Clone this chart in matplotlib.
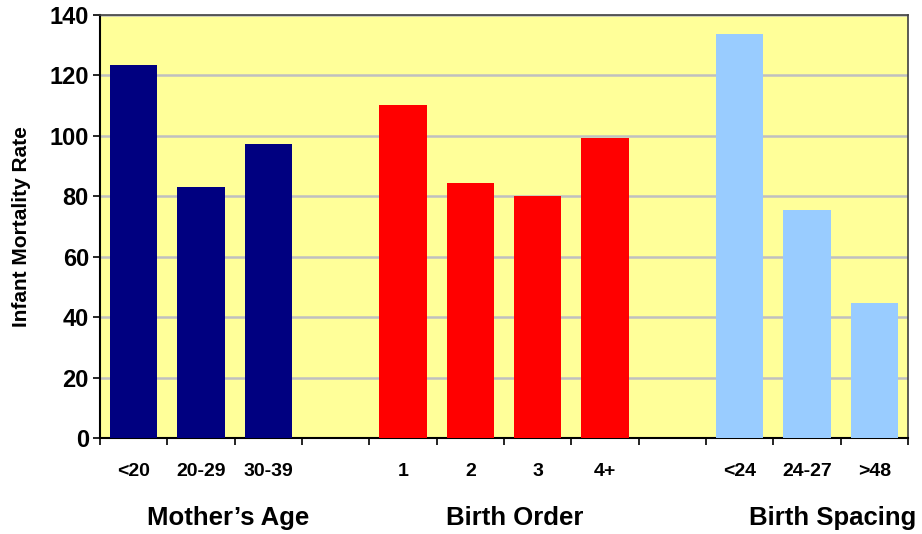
import matplotlib.pyplot as plt
import numpy as np

plt.rcParams['font.family'] = ['Liberation Sans', 'DejaVu Sans']

# categories per group, with empty slots between groups
age_labels = ['<20', '20-29', '30-39']
age_rates = [123.5, 83.2, 97.2]
order_labels = ['1', '2', '3', '4+']
order_rates = [110.3, 84.5, 80.0, 99.2]
spacing_labels = ['<24', '24-27', '>48']
spacing_rates = [133.8, 75.3, 44.8]
y_ticks = [0, 20, 40, 60, 80, 100, 120, 140]

group_names = ["Mother\u2019s Age", 'Birth Order', 'Birth Spacing']
group_colors = ['#000080', '#FF0000', '#99CCFF']
groups = [(age_labels, age_rates), (order_labels, order_rates), (spacing_labels, spacing_rates)]

fig = plt.figure(figsize=(9.22, 5.34), dpi=100)
ax = fig.add_axes([100/922, 1-438/534, 808/922, 423/534])
ax.set_facecolor('#FFFF99')

pos = 0
tick_pos = []
tick_lab = []
for (labs, vals), col in zip(groups, group_colors):
    x = np.arange(len(labs)) + pos
    ax.bar(x, vals, width=0.7, color=col, zorder=3)
    tick_pos += list(x)
    tick_lab += labs
    pos += len(labs) + 1

n_slots = pos - 1
ax.set_xlim(-0.5, n_slots - 0.5)
ax.set_ylim(0, 140)
ax.set_yticks(y_ticks)
ax.set_yticklabels([str(v) for v in y_ticks], fontsize=17, fontweight='bold')
ax.yaxis.grid(True, color='#C0C0C0', linewidth=1.8, zorder=0)

# category labels centred, ticks at slot boundaries
ax.set_xticks(tick_pos)
ax.set_xticklabels(tick_lab, fontsize=14, fontweight='bold')
ax.tick_params(axis='x', which='major', length=0, pad=18)
ax.set_xticks(np.arange(-0.5, n_slots, 1), minor=True)
ax.tick_params(axis='x', which='minor', length=5, width=1.2, direction='out')
ax.tick_params(axis='y', length=5, width=1.2, pad=3)

for s in ['left', 'bottom']:
    ax.spines[s].set_color('black')
    ax.spines[s].set_linewidth(1.5)
for s in ['top', 'right']:
    ax.spines[s].set_color('#404040')
    ax.spines[s].set_linewidth(1.2)

ax.set_ylabel('Infant Mortality Rate', fontsize=15, fontweight='bold')
ax.yaxis.set_label_coords((31 - 100)/808, 0.5)

group_x = [228, 515, 833]
for name, gx in zip(group_names, group_x):
    fig.text(gx/922, 1-518/534, name, fontsize=18.5, fontweight='bold', ha='center', va='center')

fig.savefig('out.png', dpi=100)
